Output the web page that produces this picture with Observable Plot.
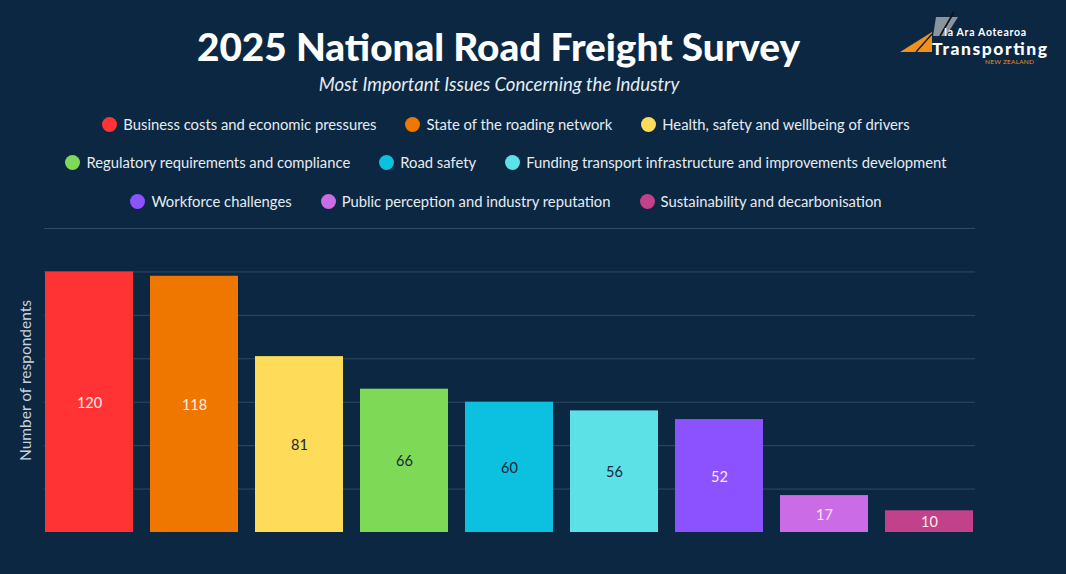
<!DOCTYPE html>
<html>
<head>
<meta charset="utf-8">
<script src="https://cdn.jsdelivr.net/npm/d3@7"></script>
<script src="https://cdn.jsdelivr.net/npm/@observablehq/plot@0.6"></script>
<style>
  html, body { margin: 0; padding: 0; background: #0b2742; width: 1066px; height: 574px; overflow: hidden; font-family: Lato, "Noto Sans", sans-serif; }
  #header { position: relative; width: 1066px; height: 220px; }
  #title { position: absolute; left: 0; width: 997px; top: 25px; text-align: center; color: #ffffff; font-weight: 900; font-size: 38.7px; line-height: 42px; }
  #subtitle { position: absolute; left: 0; width: 998px; top: 72px; text-align: center; color: #e6ecf2; font-style: italic; font-size: 18.6px; line-height: 24px; }
  .legend-row { position: absolute; left: 0; width: 1012px; display: flex; justify-content: center; gap: 29px; color: #e6ecf2; font-size: 14.8px; line-height: 20px; }
  .legend-item { display: flex; align-items: center; white-space: nowrap; }
  .swatch { width: 15px; height: 15px; border-radius: 50%; margin-right: 6px; display: inline-block; }
  #logo { position: absolute; left: 890px; top: 8px; width: 170px; height: 60px; }
</style>
</head>
<body>
<div id="header">
  <div id="title">2025 National Road Freight Survey</div>
  <div id="subtitle">Most Important Issues Concerning the Industry</div>
  <div id="legend"></div>
  <svg id="logo" viewBox="890 8 170 60" width="170" height="60">
    <polygon points="936,17 958,17 946,36 933,36" fill="#8a949c"/>
    <line x1="954" y1="12" x2="940" y2="36" stroke="#111" stroke-width="1.6"/>
    <polygon points="900,52 932,32 932,52" fill="#f0901e"/>
    <line x1="916" y1="52" x2="932" y2="34" stroke="#1a1a1a" stroke-width="1.4"/>
    <text x="944" y="35.5" fill="#ffffff" font-family="Lato, sans-serif" font-size="10.5" font-weight="700" textLength="82">Ia Ara Aotearoa</text>
    <text x="932" y="55" fill="#ffffff" font-family="Lato, sans-serif" font-size="17.5" font-weight="900" textLength="115">Transporting</text>
    <text x="985" y="64" fill="#f0901e" font-family="Lato, sans-serif" font-size="6.5" textLength="49">NEW ZEALAND</text>
  </svg>
</div>
<div id="chart"></div>
<script>
// ---- data ----
const issues = [
  "Business costs and economic pressures",
  "State of the roading network",
  "Health, safety and wellbeing of drivers",
  "Regulatory requirements and compliance",
  "Road safety",
  "Funding transport infrastructure and improvements development",
  "Workforce challenges",
  "Public perception and industry reputation",
  "Sustainability and decarbonisation"
];
const respondents = [120, 118, 81, 66, 60, 56, 52, 17, 10];
const issueColors = ["#ff3333", "#ef7700", "#fedb59", "#7ed957", "#0cc0df", "#5ce1e6", "#8c52ff", "#cb6ce6", "#c1418a"];
const gridTicks = [20, 40, 60, 80, 100, 120, 140];
const legendRows = [[0, 1, 2], [3, 4, 5], [6, 7, 8]];
const yLabel = "Number of respondents";

const data = issues.map((issue, i) => ({issue, value: respondents[i], color: issueColors[i]}));

// ---- legend ----
const legend = document.getElementById("legend");
const rowTops = [114, 152, 191];
legendRows.forEach((row, r) => {
  const div = document.createElement("div");
  div.className = "legend-row";
  div.style.top = rowTops[r] + "px";
  row.forEach(i => {
    const item = document.createElement("div");
    item.className = "legend-item";
    const sw = document.createElement("span");
    sw.className = "swatch";
    sw.style.background = issueColors[i];
    const label = document.createElement("span");
    label.textContent = issues[i];
    item.appendChild(sw);
    item.appendChild(label);
    div.appendChild(item);
  });
  legend.appendChild(div);
});

// ---- chart ----
const labelFill = d => d3.lab(d.color).l > 68 ? "#16283a" : "#fbeee8";

const chart = Plot.plot({
  width: 1066,
  height: 354,
  marginLeft: 44,
  marginRight: 91,
  marginTop: 8,
  marginBottom: 42,
  style: {background: "transparent", fontFamily: "Lato, 'Noto Sans', sans-serif"},
  x: {domain: issues, paddingInner: 0.16, paddingOuter: 0, axis: null},
  y: {domain: [0, 140], axis: null},
  color: {domain: issues, range: issueColors},
  marks: [
    Plot.ruleY(gridTicks, {stroke: "#2f4b64", strokeWidth: 1}),
    Plot.barY(data, {x: "issue", y: "value", fill: "issue"}),
    Plot.text(data, {x: "issue", y: d => d.value / 2, dy: 1, text: d => String(d.value), fill: labelFill, fontSize: 14.5}),
    Plot.text([yLabel], {frameAnchor: "left", textAnchor: "middle", rotate: -90, dx: -18, fill: "#c9d2db", fontSize: 15.5})
  ]
});
document.getElementById("chart").appendChild(chart);
</script>
</body>
</html>
